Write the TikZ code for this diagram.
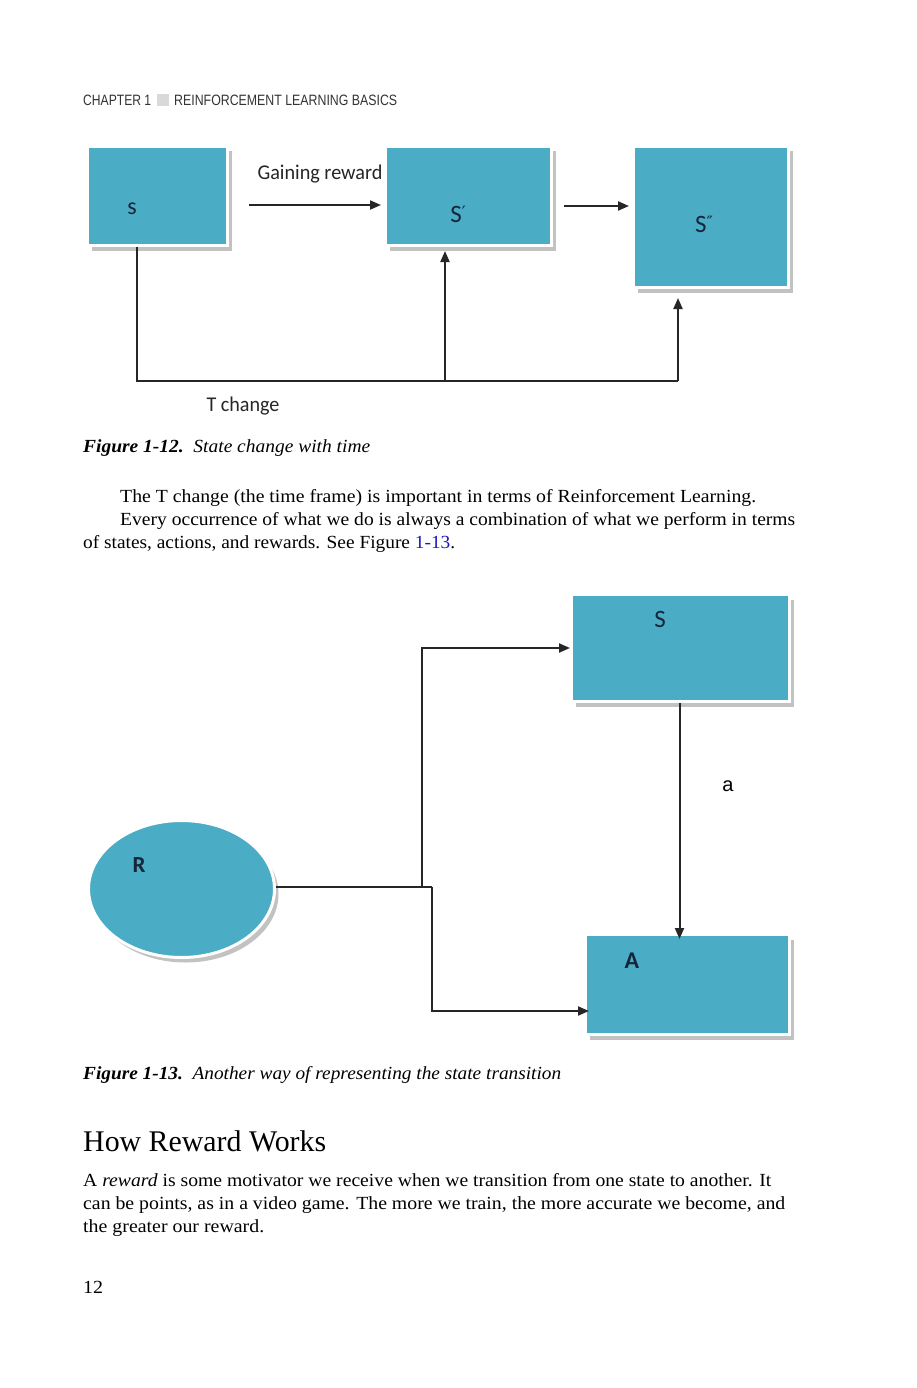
\documentclass[tikz,border=0pt]{standalone}
\usepackage{fontspec}
\setmainfont{Liberation Serif}
\newfontfamily\calibri{Carlito}
\newfontfamily\arial{Liberation Sans}
\newfontfamily\dejavu{DejaVu Sans}
\usepackage{graphicx}
\usetikzlibrary{positioning,arrows.meta,shapes.geometric,shadows,calc}
\definecolor{stateteal}{HTML}{4BACC6}
\definecolor{labelink}{HTML}{16263A}
\definecolor{linkblue}{HTML}{1A1AB8}
\newcommand{\fitw}[2]{\resizebox{#1}{\height}{#2}}
\newcommand{\prm}[1]{\raisebox{4pt}{\dejavu\fontsize{17}{17}\selectfont #1}}

\begin{document}
\begin{tikzpicture}[x=1pt, y=-1pt,
  statebox/.style={rectangle, fill=stateteal, draw=white, line width=3pt, inner sep=0pt,
    drop shadow={shadow xshift=4pt, shadow yshift=-5pt, fill=black!24, opacity=1}},
  rel/.style={-{Triangle[length=11pt,width=9pt]}, line width=2pt, draw=black!85},
  wire/.style={line width=2pt, draw=black!85},
  lbl/.style={font=\calibri\fontsize{25}{28}\selectfont, text=labelink, inner sep=0pt},
  tag/.style={font=\calibri\fontsize{21}{24}\selectfont, text=black!85, inner sep=0pt},
  txt/.style={anchor=base west, inner sep=0pt, font=\fontsize{18.5}{21}\selectfont}
]
\fill[white] (0,0) rectangle (916,1388);
\useasboundingbox (0,0) rectangle (916,1388);

% running head
\node[txt, font=\arial\fontsize{15}{17}\selectfont, text=black!80] (head1) at (83,105.5) {\fitw{68pt}{CHAPTER 1}};
\fill[gray!30] (157,94) rectangle (169,106);
\node[txt, font=\arial\fontsize{15}{17}\selectfont, text=black!80] (head2) at (174,105.5) {\fitw{223pt}{REINFORCEMENT LEARNING BASICS}};

% figure 1-12
\node[statebox, minimum width=140pt, minimum height=99pt] (s) at (157.5,196) {};
\node[statebox, minimum width=166pt, minimum height=99pt] (sp) at (468.5,196) {};
\node[statebox, minimum width=155pt, minimum height=141pt] (spp) at (711,217) {};
\node[lbl, font=\calibri\fontsize{24}{26}\selectfont] at (132,209) {s};
\node[lbl] at (458,214) {S\prm{′}};
\node[lbl] at (704,224) {S\prm{″}};
\node[tag] (gain) at (320,174) {\fitw{125pt}{Gaining reward}};

\draw[rel] ($(s.east)+(20,9)$) -- ($(sp.west)+(-3,9)$);
\draw[rel] ($(sp.east)+(11,10)$) -- ($(spp.west)+(-3,-11)$);

\coordinate (tl) at (137,381);
\coordinate (tm) at (445,381);
\coordinate (tr) at (678,381);
\draw[wire] (s.south -| tl) -- (tl) -- (tr);
\draw[rel, shorten >=9pt] (tr) -- (tr |- spp.south);
\draw[rel, shorten >=4pt] (tm) -- (tm |- sp.south);
\node[tag] (tchange) at (243,406) {\fitw{73pt}{T change}};

\node[txt] (cap1) at (83,452) {\fitw{287pt}{\textbf{\textit{Figure 1-12.}}\enspace\textit{State change with time}}};

% body text
\node[txt] (p1a) at (120,502) {\fitw{636pt}{The T change (the time frame) is important in terms of Reinforcement Learning.}};
\node[txt] (p1b) at (120,525) {\fitw{675pt}{Every occurrence of what we do is always a combination of what we perform in terms}};
\node[txt] (p1c) at (83,548) {\fitw{372pt}{of states, actions, and rewards. See Figure \textcolor{linkblue}{1-13}.}};

% figure 1-13
\node[statebox, minimum width=218pt, minimum height=107pt] (st) at (680.5,648) {};
\node[statebox, minimum width=204pt, minimum height=100pt] (act) at (687.5,984.5) {};
\node[statebox, ellipse, minimum width=186pt, minimum height=137pt] (rew) at (181.5,889) {};
\node[lbl] at (660,619) {S};
\node[lbl, font=\calibri\bfseries\fontsize{24}{26}\selectfont] at (632,961) {A};
\node[lbl, font=\calibri\bfseries\fontsize{23}{26}\selectfont] at (139,865) {R};
\node[font=\arial\fontsize{20}{22}\selectfont, inner sep=0pt] (alab) at (728,786) {a};

\coordinate (jl) at (422,887);
\coordinate (jr) at (432,887);
\draw[wire] (rew.east |- jr) -- (jr);
\draw[rel] (jl) |- (st.west);
\draw[rel, shorten >=-5pt] (jr) |- ([yshift=25pt]act.south west);
\draw[rel, shorten >=-6pt] ([xshift=-1pt]st.south) -- ([xshift=-1pt]st.south |- act.north);

\node[txt] (cap2) at (83,1079) {\fitw{478pt}{\textbf{\textit{Figure 1-13.}}\enspace\textit{Another way of representing the state transition}}};

\node[txt, font=\fontsize{30}{32}\selectfont] (sect) at (83,1151) {\fitw{243pt}{How Reward Works}};
\node[txt] (p2a) at (83,1186) {\fitw{688pt}{A \textit{reward} is some motivator we receive when we transition from one state to another. It}};
\node[txt] (p2b) at (83,1209) {\fitw{702pt}{can be points, as in a video game. The more we train, the more accurate we become, and}};
\node[txt] (p2c) at (83,1232) {\fitw{181pt}{the greater our reward.}};

\node[txt] (page) at (83,1293) {\fitw{20pt}{12}};
\end{tikzpicture}
\end{document}
